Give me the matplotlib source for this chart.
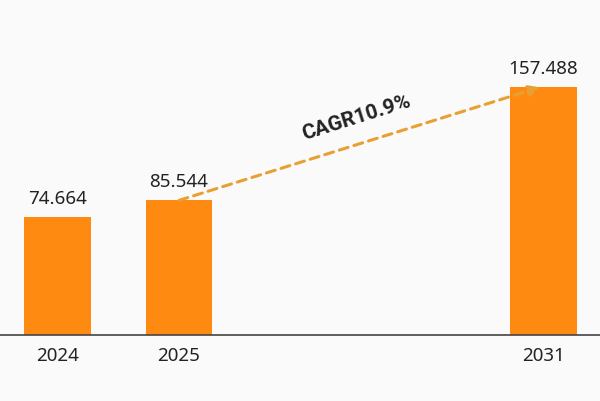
import numpy as np
import matplotlib
matplotlib.use("Agg")
import matplotlib.pyplot as plt

years = ["2024", "2025", "2031"]
values = [74.664, 85.544, 157.488]
cagr_label = "CAGR10.9%"

slots = [0, 1, 4]  # 2031 sits further right, gap for skipped years
bar_color = "#FF8A12"
arrow_color = "#E9A032"

plt.rcParams['font.family'] = ['Noto Sans', 'DejaVu Sans']

fig = plt.figure(figsize=(6, 4.01), dpi=100, facecolor="#FAFAFA")
ax = fig.add_axes([0, 0.165, 1, 0.835])
ax.set_facecolor("#FAFAFA")

ax.bar(slots, values, width=0.55, color=bar_color)
ax.set_xlim(-0.473, 4.465)
ax.set_ylim(0, 213)

for s, v in zip(slots, values):
    ax.text(s, v + 6, f"{v:.3f}", ha="center", va="bottom", fontsize=13.5, color="#222222")

ax.set_xticks(slots)
ax.set_xticklabels(years, fontsize=13.5, color="#222222")
ax.tick_params(axis="x", length=0, pad=9)
ax.set_yticks([])
for side in ["top", "right", "left"]:
    ax.spines[side].set_visible(False)
ax.spines["bottom"].set_color("#444444")
ax.spines["bottom"].set_linewidth(1.2)

# dashed growth arrow from 2025 bar top to 2031 bar top
x0, y0 = slots[1], values[1]
x1, y1 = slots[2] - 0.03, values[2]
ax.annotate("", xy=(x1, y1), xytext=(x0, y0),
            arrowprops=dict(arrowstyle="-|>", color=arrow_color, lw=2.2,
                            linestyle=(0, (3, 2)), mutation_scale=16,
                            shrinkA=0, shrinkB=0))

fig.canvas.draw()
p0 = ax.transData.transform((x0, y0))
p1 = ax.transData.transform((x1, y1))
angle = np.degrees(np.arctan2(p1[1] - p0[1], p1[0] - p0[0]))
tx = x0 + (x1 - x0) * 0.5
ty = y0 + (y1 - y0) * 0.5 + 11
ax.text(tx, ty, cagr_label, rotation=angle, rotation_mode="anchor",
        ha="center", va="bottom", fontsize=15, fontweight="bold", fontstyle="normal",
        color="#222222", family=['Roboto', 'DejaVu Sans'])

fig.savefig("out.png", dpi=100, facecolor=fig.get_facecolor())
